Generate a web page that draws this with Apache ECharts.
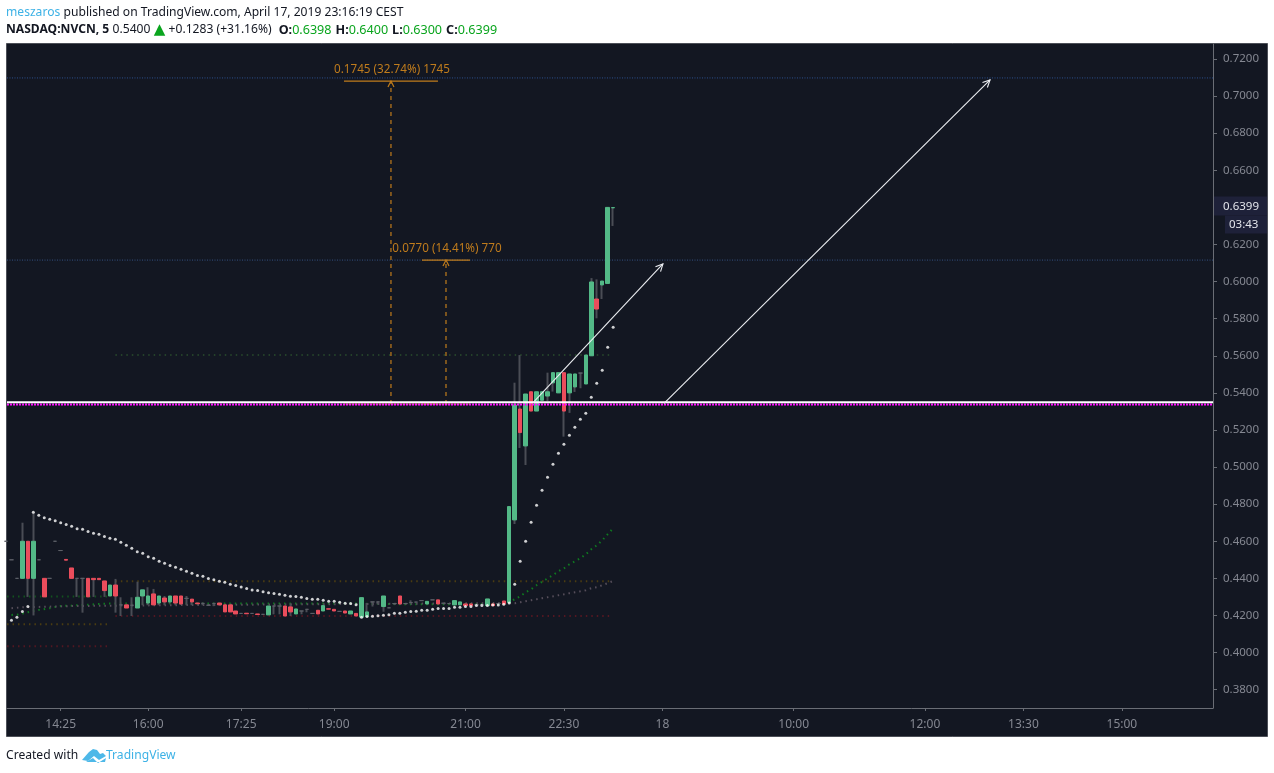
<!DOCTYPE html>
<html>
<head>
<meta charset="utf-8">
<title>NVCN</title>
<style>
html,body{margin:0;padding:0;background:#fff;}
#chart{width:1274px;height:773px;}
</style>
<script src="https://cdn.jsdelivr.net/npm/echarts@6/dist/echarts.min.js"></script>
</head>
<body>
<div id="chart"></div>
<script>
// bars are numbered 0..111 from the left edge, ticks use the same numbers
var opens=[.46,.45,.44,.44,.46,.44,.45,.44,.44,.46,.455,.4502,.4456,.44,.44,.44,.44,.44,.4386,.4305,.4364,.4257,.4257,.4255,.424,.4305,.4267,.4316,.4267,.4294,.4273,.4305,.4305,.4292,.4288,.4267,.4265,.4255,.4265,.4267,.4257,.4257,.4224,.4211,.4212,.4211,.4208,.4206,.4203,.4251,.4251,.4251,.4246,.4208,.4224,.4233,.4211,.4228,.4224,.4236,.4233,.4222,.4224,.4208,.4211,.4191,.4194,.4273,.4273,.4248,.4241,.4264,.4305,.4264,.427,.4272,.428,.4262,.4284,.4284,.4266,.4264,.4257,.4257,.4262,.4262,.4257,.4259,.4253,.4262,.4264,.4278,.427,.4715,.5313,.5114,.5406,.5302,.536,.5383,.5454,.54,.5509,.54,.5432,.5507,.5448,.56,.5906,.5982,.599,.6398];
var closes=[.46,.45,.44,.46,.44,.46,.45,.43,.44,.46,.455,.4498,.44,.44,.44,.43,.4393,.4393,.4334,.4364,.4305,.4257,.424,.4255,.4298,.4338,.4305,.4257,.4305,.4273,.4305,.4267,.4262,.4292,.4273,.4263,.4265,.4255,.4265,.4257,.4219,.4219,.4208,.4211,.4209,.4211,.4205,.4206,.4251,.4251,.4251,.4197,.4219,.4235,.4224,.4233,.4211,.4208,.4253,.4234,.4224,.4222,.4213,.4224,.4197,.4296,.4219,.4273,.4273,.4305,.4241,.4264,.4262,.4264,.427,.4272,.428,.4276,.4284,.4262,.4266,.4264,.428,.4273,.4253,.4253,.4257,.4259,.4289,.4253,.4264,.4262,.4787,.5335,.5186,.5394,.5302,.5406,.5406,.5406,.5509,.5509,.5302,.5502,.5502,.5507,.5604,.5998,.5852,.6003,.64,.6399];
var lows=[.46,.45,.44,.44,.43,.42,.45,.43,.44,.46,.455,.4498,.44,.43,.4215,.43,.43,.4393,.43,.4305,.4215,.4197,.424,.4197,.424,.4255,.4255,.4257,.4255,.4255,.4265,.4255,.4257,.4255,.4255,.4263,.4255,.4251,.425,.4257,.4219,.4219,.4208,.4211,.4209,.4211,.4205,.4206,.4203,.4206,.4206,.4197,.4197,.4208,.4206,.4217,.4211,.4208,.4224,.4234,.4224,.4222,.4213,.4208,.4197,.4191,.4194,.4248,.426,.422,.4241,.4257,.4262,.4264,.4264,.4272,.428,.4262,.4284,.4262,.4266,.4264,.4257,.4257,.4253,.4253,.4257,.4259,.4253,.4253,.4264,.4262,.427,.4693,.5103,.5011,.5302,.5302,.536,.5356,.5407,.54,.5164,.5292,.5405,.5425,.5448,.56,.5802,.5906,.599,.63];
var highs=[.46,.45,.44,.47,.46,.4756,.45,.44,.44,.46,.455,.4502,.4456,.44,.44,.44,.44,.44,.4386,.4364,.4397,.4298,.4257,.4298,.4382,.4338,.4352,.4343,.4305,.4305,.4305,.4305,.4305,.4305,.4288,.4267,.427,.4262,.4265,.4267,.4257,.4257,.4224,.4211,.4212,.4211,.4208,.4206,.4251,.4251,.4251,.4251,.4265,.4235,.4224,.4233,.4211,.4228,.4253,.4236,.4233,.4222,.4224,.4224,.4211,.4296,.4267,.4273,.4273,.4305,.4241,.4264,.4305,.4264,.4282,.4272,.428,.4276,.4284,.4284,.4266,.4264,.428,.4273,.4262,.4262,.4257,.4259,.4289,.4262,.4264,.4278,.4787,.5455,.5604,.5394,.5406,.5406,.5406,.5509,.5509,.5509,.5509,.5502,.5502,.5507,.5604,.6019,.6012,.6003,.64,.64];
var psarValues=[.4158,.4174,.419,.4221,.4248,.4756,.474,.4727,.4718,.4711,.47,.4691,.4681,.4668,.4665,.4652,.4643,.4638,.4625,.4616,.4611,.4594,.4578,.4562,.4544,.4535,.4517,.4508,.4492,.4481,.4469,.446,.4449,.4438,.4427,.4416,.4411,.4399,.4393,.4384,.4379,.4368,.4361,.4354,.4345,.4337,.4334,.4328,.4323,.4319,.4314,.4309,.4303,.4302,.4298,.4291,.4287,.4287,.4282,.4276,.4276,.4271,.4266,.4264,.4258,.419,.4194,.4196,.4199,.4201,.4204,.4212,.4212,.4217,.4221,.4222,.4228,.4228,.4233,.4238,.4238,.4238,.4244,.4244,.4248,.4248,.4253,.4253,.4253,.4257,.4257,.4261,.4267,.4368,.4492,.46,.4702,.4794,.4875,.4945,.5015,.5074,.5123,.5171,.5215,.5258,.529,.5376,.5452,.5522,.5646,.5754];
var fastMaBars=[1,2,4,6,8,9,10,12,15,17,19,63,73,91,92,93,94,95,96,97,98,99,100,101,102,103,104,105,106,107,108,109,110,111];
var fastMaValues=[.4203,.4204,.4217,.423,.4239,.4246,.4251,.4253,.4258,.4262,.4264,.4265,.426,.4262,.4272,.4287,.4303,.4325,.4341,.4363,.4381,.44,.4417,.4438,.4454,.4476,.4492,.4508,.453,.4557,.4578,.4605,.4638,.467];
var slowMaBars=[1,3,13,33,88,91,93,94,95,96,97,98,99,100,101,102,103,104,105,106,107,108,109,110,111];
var slowMaValues=[.4239,.4244,.4251,.4256,.4266,.4268,.4266,.4271,.4277,.4282,.4287,.4293,.4298,.4303,.4309,.4314,.432,.4325,.433,.4336,.4347,.4352,.4363,.4374,.4386];
var priceTicks=[.38,.4,.42,.44,.46,.48,.5,.52,.54,.56,.58,.6,.62,.66,.68,.7,.72];
var lastClose=0.6399;
var timeTickBars=[10,26,43,60,84,102,120,144,168,186,204];
var timeTickLabels=['14:25','16:00','17:25','19:00','21:00','22:30','18','10:00','12:00','13:30','15:00'];
// from bar, to bar, price
var arrowStart=[[96.4,.5349],[120.3,.5343]];
var arrowEnd=[[120.1,.6095],[179.9,.7087]];
var measureBars=[70.38,80.44];
var measureLeft=[61.79,76.05];
var measureRight=[78.97,84.83];
var measureBase=[.534,.534];
var measureTop=[.7081,.6116];
var measureLabels=['0.1745 (32.74%) 1745','0.0770 (14.41%) 770'];

var xMin=0.185,xMax=220.66;
var FONT='"Noto Sans","Open Sans",sans-serif';
var ORANGE='#c07c1c';

function level(from,to,price,color,dash,width,z){
	return {type:'line',silent:true,symbol:'none',z:z||2,
		data:[[from,price],[to,price]],
		lineStyle:{color:color,width:width||2,type:dash||[1.5,3.97]}};
}
function dotted(bars,values,color){
	return {type:'line',silent:true,symbol:'none',z:2,
		data:bars.map(function(b,i){return [b,values[i]];}),
		lineStyle:{color:color,width:2,type:[1.5,3.97]}};
}
function renderArrow(params,api){
	var a=api.coord([api.value(0),api.value(1)]),b=api.coord([api.value(2),api.value(3)]);
	var ang=Math.atan2(b[1]-a[1],b[0]-a[0]),h=8;
	return {type:'group',children:[
		{type:'line',shape:{x1:a[0],y1:a[1],x2:b[0],y2:b[1]},style:{stroke:'#eceef2',lineWidth:1.1}},
		{type:'polyline',shape:{points:[
			[b[0]-h*Math.cos(ang-0.45),b[1]-h*Math.sin(ang-0.45)],b,
			[b[0]-h*Math.cos(ang+0.45),b[1]-h*Math.sin(ang+0.45)]]},
			style:{stroke:'#eceef2',lineWidth:1.1,fill:null}}
	]};
}
function renderMeasure(params,api){
	var i=params.dataIndex;
	var base=api.coord([measureBars[i],measureBase[i]]),top=api.coord([measureBars[i],measureTop[i]]);
	var l=api.coord([measureLeft[i],measureTop[i]])[0],r=api.coord([measureRight[i],measureTop[i]])[0];
	return {type:'group',children:[
		{type:'line',shape:{x1:base[0],y1:base[1],x2:top[0],y2:top[1]},style:{stroke:ORANGE,lineWidth:1.2,lineDash:[4,4]}},
		{type:'line',shape:{x1:l,y1:top[1],x2:r,y2:top[1]},style:{stroke:ORANGE,lineWidth:1.2}},
		{type:'line',shape:{x1:l,y1:base[1],x2:r,y2:base[1]},style:{stroke:ORANGE,lineWidth:1,opacity:.7}},
		{type:'polyline',shape:{points:[[top[0]-3,top[1]+6],[top[0],top[1]],[top[0]+3,top[1]+6]]},style:{stroke:ORANGE,lineWidth:1.2,fill:null}},
		{type:'text',style:{text:measureLabels[i],x:base[0]+1,y:top[1]-11,align:'center',verticalAlign:'middle',fill:ORANGE,font:'11.7px '+FONT}}
	]};
}

var wickRows=opens.map(function(o,i){return [i,o,closes[i],lows[i],highs[i]];});
var bodyRows=opens.map(function(o,i){return [i,o,closes[i],Math.min(o,closes[i]),Math.max(o,closes[i])];});

var chart=echarts.init(document.getElementById('chart'));
var option={
	animation:false,
	backgroundColor:'#fff',
	textStyle:{fontFamily:FONT},
	grid:{left:7,right:61,top:44,bottom:65},
	xAxis:{
		type:'value',min:xMin,max:xMax,splitLine:{show:false},
		axisLine:{onZero:false,lineStyle:{color:'#6a6d75'}},
		axisTick:{length:3,lineStyle:{color:'#6a6d75'},customValues:timeTickBars},
		axisLabel:{color:'#858892',fontSize:12,margin:11,customValues:timeTickBars,
			formatter:function(v){return timeTickLabels[timeTickBars.indexOf(v)];}}
	},
	yAxis:{
		type:'value',position:'right',min:0.3701,max:0.7281,splitLine:{show:false},
		axisLine:{show:true,lineStyle:{color:'#6a6d75'}},
		axisTick:{show:true,length:4,lineStyle:{color:'#6a6d75'},customValues:priceTicks.concat([lastClose])},
		axisLabel:{color:'#858892',fontSize:11.5,margin:10,padding:[2,0,0,0],customValues:priceTicks,
			formatter:function(v){return v.toFixed(4);}}
	},
	series:[
		level(0.2,19,.4302,'#12541e'),
		level(0.2,19,.4152,'#4a3c12'),
		level(0.2,19,.4034,'#521722'),
		level(20,111,.4384,'#4a3c12'),
		level(20,111,.4197,'#521722'),
		level(20,111,.5604,'#24402a'),
		level(xMin,xMax,.7098,'#2c4f8c',[1,1.5],1),
		level(xMin,xMax,.6116,'#33507f',[1,1.5],1),
		dotted(fastMaBars,fastMaValues,'#0f7a20'),
		dotted(slowMaBars,slowMaValues,'#564e5a'),
		{type:'candlestick',silent:true,barWidth:1,z:3,data:wickRows,
			itemStyle:{color:'#4a4d55',color0:'#4a4d55',borderColor:'#4a4d55',borderColor0:'#4a4d55',borderColorDoji:'#4a4d55',borderWidth:2}},
		{type:'candlestick',silent:true,barWidth:4,z:4,data:bodyRows,
			itemStyle:{color:'#53b987',color0:'#eb4d5c',borderColor:'#53b987',borderColor0:'#eb4d5c',borderColorDoji:'#5d6068',borderWidth:1}},
		{type:'custom',silent:true,z:5,renderItem:renderMeasure,encode:{x:0,y:1},
			data:measureBars.map(function(b,i){return [b,measureTop[i]];})},
		level(xMin,xMax,.5337,'#ff10ff',[2,1],2,6),
		level(xMin,xMax,.5349,'#ffffff','solid',2,6),
		{type:'custom',silent:true,z:7,renderItem:renderArrow,encode:{x:[0,2],y:[1,3]},
			data:arrowStart.map(function(s,i){return [s[0],s[1],arrowEnd[i][0],arrowEnd[i][1]];})},
		{type:'scatter',silent:true,z:8,symbolSize:3,itemStyle:{color:'#ffffff'},
			data:psarValues.map(function(v,i){return [i,v];})}
	]
};
chart.setOption(option);

var lastY=chart.convertToPixel({yAxisIndex:0},lastClose);
var rowRich={
	blue:{fill:'#3db2e6',font:'12.1px '+FONT},
	t:{fill:'#131722',font:'12.1px '+FONT},
	b:{fill:'#131722',font:'bold 12.1px '+FONT},
	k:{fill:'#131722',font:'bold 12.6px '+FONT},
	g:{fill:'#0aa51e',font:'12.6px '+FONT},
	up:{fill:'#0aa51e',font:'15px "DejaVu Sans"'},
	gap:{width:4,font:'12.1px '+FONT},
	gapWide:{width:7,font:'12.1px '+FONT}
};
chart.setOption({graphic:[
	{type:'rect',z:-1,shape:{x:6.5,y:43.5,width:1261,height:693},style:{fill:'#131722',stroke:'#4c4f57',lineWidth:1}},
	{type:'rect',z:20,shape:{x:1214,y:lastY-11,width:53,height:19},style:{fill:'#1e2139'}},
	{type:'rect',z:20,shape:{x:1225,y:lastY+8,width:42,height:18},style:{fill:'#1e2139'}},
	{type:'text',z:21,x:1223,y:lastY-1,style:{text:'0.6399',fill:'#e2e4ea',font:'11.5px '+FONT,verticalAlign:'middle'}},
	{type:'text',z:21,x:1229,y:lastY+17,style:{text:'03:43',fill:'#e2e4ea',font:'11.5px '+FONT,verticalAlign:'middle'}},
	{type:'text',x:6,y:13,style:{text:'{blue|meszaros} {t|published on TradingView.com, April 17, 2019 23:16:19 CEST}',rich:rowRich,verticalAlign:'middle'}},
	{type:'text',x:6,y:30,style:{text:'{b|NASDAQ:NVCN, 5} {t|0.5400} {up|▲} {t|+0.1283 (+31.16%)}{gapWide| }{k|O:}{g|0.6398}{gap| }{k|H:}{g|0.6400}{gap| }{k|L:}{g|0.6300}{gap| }{k|C:}{g|0.6399}',rich:rowRich,verticalAlign:'middle'}},
	{type:'text',x:6,y:756,style:{text:'Created with',fill:'#131722',font:'12.1px '+FONT,verticalAlign:'middle'}},
	{type:'polygon',x:82,y:748,shape:{points:[[0,12],[7,4],[11,1],[15,2],[18,6],[21,5],[24,8],[17,12],[12,8],[6,13]]},style:{fill:'#4db8e8'}},
	{type:'polygon',x:82,y:748,shape:{points:[[4,14],[11,10],[16,15],[24,10],[23,14]]},style:{fill:'#4db8e8'}},
	{type:'text',x:106,y:756,style:{text:'TradingView',fill:'#3db2e6',font:'12.1px '+FONT,verticalAlign:'middle'}}
]});
</script>
</body>
</html>
